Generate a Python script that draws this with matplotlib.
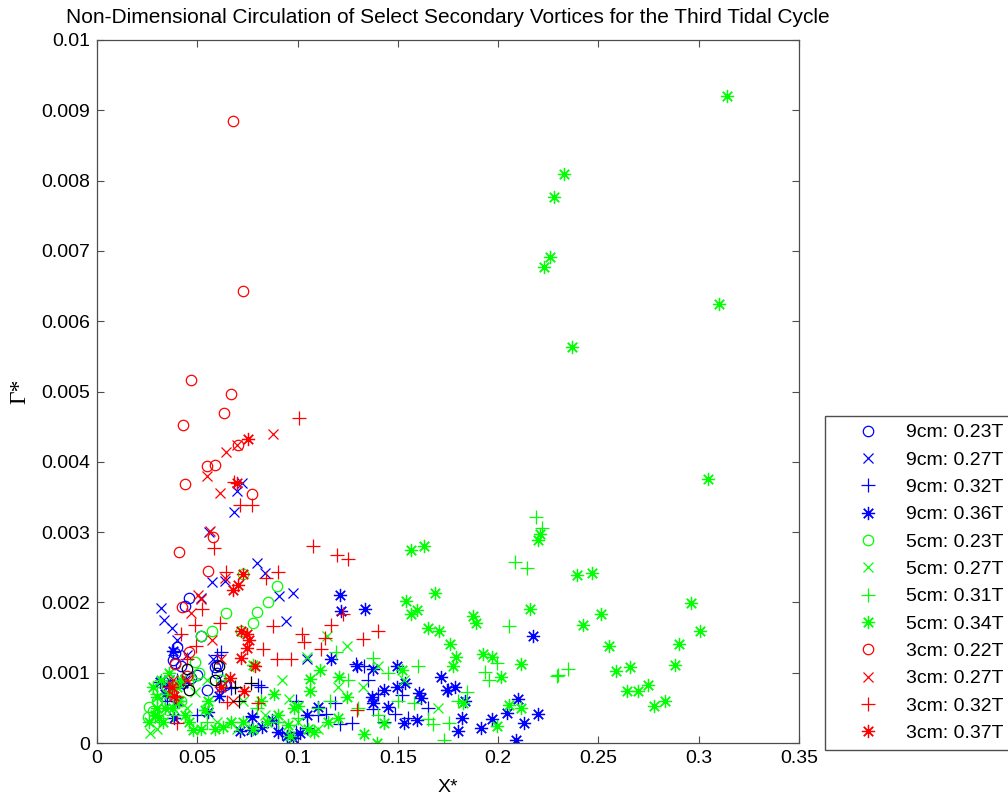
import numpy as np
import matplotlib
matplotlib.use("Agg")
import matplotlib.pyplot as plt

plt.rcParams["font.family"] = ["Liberation Sans", "DejaVu Sans"]

BLUE = "#0000ff"
GREEN = "#00ff00"
RED = "#ff0000"

# ── 9 cm ────────────────────────────────────────────────────────────────
b23_x = [0.046, 0.044, 0.052, 0.040, 0.038, 0.042, 0.059, 0.060, 0.062, 0.050,
         0.047, 0.043, 0.039, 0.055, 0.064, 0.0389, 0.0598]
b23_y = [0.00206, 0.00195, 0.00152, 0.00137, 0.00118, 0.00110, 0.00108, 0.00100,
         0.00081, 0.00097, 0.00092, 0.00085, 0.00128, 0.00075, 0.00082, 0.00114, 0.00111]

b27_x = [0.0723, 0.0698, 0.0683, 0.0558, 0.0798, 0.0319, 0.0334, 0.0374, 0.0573,
         0.0518, 0.0399, 0.0837, 0.0907, 0.0977, 0.0942, 0.1047, 0.064, 0.045,
         0.058, 0.036, 0.044]
b27_y = [0.00370, 0.00359, 0.00329, 0.00300, 0.00256, 0.00192, 0.00175, 0.00164,
         0.00229, 0.00206, 0.00147, 0.00242, 0.00209, 0.00213, 0.00174, 0.00120,
         0.00230, 0.00125, 0.00120, 0.00090, 0.00090]

b32_x = [0.0803, 0.1187, 0.1142, 0.1212, 0.1271, 0.1376, 0.1486, 0.152, 0.0992,
         0.0922, 0.1047, 0.0598, 0.0668, 0.0773, 0.175, 0.133, 0.129, 0.135, 0.155,
         0.165, 0.062, 0.082, 0.099, 0.110, 0.040, 0.035, 0.050, 0.089, 0.140, 0.143]
b32_y = [0.00082, 0.00057, 0.00041, 0.00027, 0.00029, 0.00048, 0.00041, 0.00068,
         0.00016, 0.00014, 0.00021, 0.00125, 0.00078, 0.00038, 0.00075, 0.00110,
         0.00112, 0.00090, 0.00035, 0.00050, 0.00130, 0.00080, 0.00060, 0.00040,
         0.00090, 0.00060, 0.00040, 0.00030, 0.00070, 0.00030]

b36_x = [0.1212, 0.1217, 0.1336, 0.1167, 0.1296, 0.1376, 0.1496, 0.1535, 0.1496,
         0.1431, 0.1371, 0.1451, 0.1376, 0.1102, 0.1047, 0.153, 0.1012, 0.0947,
         0.0902, 0.0872, 0.0822, 0.0773, 0.0977, 0.2173, 0.1715, 0.1785, 0.1745,
         0.1605, 0.1615, 0.1835, 0.2099, 0.2044, 0.2198, 0.1969, 0.2129, 0.182,
         0.1595, 0.180, 0.1914, 0.2089, 0.0379, 0.0314, 0.0354, 0.0384, 0.0713,
         0.0768, 0.0553, 0.0608, 0.043, 0.034, 0.040]
b36_y = [0.00210, 0.00188, 0.00190, 0.00120, 0.00110, 0.00105, 0.00110, 0.00085,
         0.00080, 0.00075, 0.00065, 0.00051, 0.00057, 0.00051, 0.00040, 0.00028,
         0.00014, 0.00010, 0.00016, 0.00033, 0.00023, 0.00037, 0.00007, 0.00152,
         0.00094, 0.00080, 0.00075, 0.00071, 0.00064, 0.00060, 0.00063, 0.00043,
         0.00041, 0.00034, 0.00028, 0.00036, 0.00033, 0.00017, 0.00021, 0.00004,
         0.00131, 0.00087, 0.00081, 0.00036, 0.00017, 0.00018, 0.00044, 0.00067,
         0.00085, 0.00070, 0.00060]

# ── 5 cm ────────────────────────────────────────────────────────────────
g23_x = [0.0728, 0.0897, 0.0852, 0.0798, 0.0778, 0.0643, 0.0573, 0.0518, 0.0489,
         0.0508, 0.0259, 0.0254, 0.035, 0.030, 0.042, 0.055, 0.072, 0.062, 0.028]
g23_y = [0.00241, 0.00223, 0.00200, 0.00186, 0.00170, 0.00185, 0.00160, 0.00152,
         0.00115, 0.00100, 0.00051, 0.00037, 0.00080, 0.00060, 0.00060, 0.00050,
         0.00160, 0.00090, 0.00045]

g27_x = [0.1246, 0.1047, 0.1147, 0.1326, 0.0957, 0.0489, 0.0264, 0.030, 0.045,
         0.060, 0.110, 0.120, 0.140, 0.170, 0.084, 0.073, 0.036, 0.055, 0.092,
         0.070, 0.153, 0.100]
g27_y = [0.00138, 0.00122, 0.00152, 0.00080, 0.00063, 0.00073, 0.00014, 0.00020,
         0.00050, 0.00030, 0.00020, 0.00080, 0.00110, 0.00050, 0.00040, 0.00060,
         0.00050, 0.00090, 0.00090, 0.00020, 0.00090, 0.00030]

g31_x = [0.2084, 0.2144, 0.2054, 0.1994, 0.1934, 0.1954, 0.2293, 0.1845, 0.165,
         0.1675, 0.1755, 0.173, 0.158, 0.2188, 0.2218, 0.2348, 0.2298, 0.1376,
         0.064, 0.090, 0.100, 0.110, 0.116, 0.125, 0.140, 0.150, 0.145, 0.160,
         0.180, 0.030, 0.038, 0.048, 0.055, 0.080, 0.119, 0.130]
g31_y = [0.00258, 0.00249, 0.00166, 0.00114, 0.00101, 0.00090, 0.00095, 0.00073,
         0.00034, 0.00027, 0.00028, 0.00004, 0.00057, 0.00321, 0.00306, 0.00105,
         0.00097, 0.00121, 0.00090, 0.00030, 0.00035, 0.00050, 0.00060, 0.00090,
         0.00040, 0.00060, 0.00100, 0.00110, 0.00060, 0.00070, 0.00040, 0.00090,
         0.00030, 0.00050, 0.00130, 0.00050]

g34_x = [0.314, 0.233, 0.228, 0.226, 0.223, 0.310, 0.237, 0.3046, 0.2198, 0.221,
         0.2393, 0.2468, 0.2961, 0.2512, 0.2423, 0.3006, 0.2552, 0.2901, 0.2881,
         0.2587, 0.2657, 0.2642, 0.2697, 0.2747, 0.2777, 0.2832,
         0.154, 0.1685, 0.1565, 0.1595, 0.165, 0.1705, 0.176, 0.179, 0.1775,
         0.1874, 0.1889, 0.2159, 0.1924, 0.1969, 0.2014, 0.2114, 0.152, 0.1825,
         0.2054, 0.2114, 0.1994, 0.1565, 0.163,
         0.0778, 0.1062, 0.1112, 0.1207, 0.1246, 0.1431, 0.1331, 0.1396, 0.1062,
         0.1002,
         0.048, 0.052, 0.054, 0.0553, 0.063, 0.059, 0.067, 0.028, 0.030, 0.032,
         0.034, 0.036, 0.026, 0.029, 0.033, 0.038, 0.041, 0.044, 0.046, 0.040,
         0.042, 0.031, 0.073, 0.078, 0.085, 0.090, 0.095, 0.098, 0.105, 0.115,
         0.088, 0.082, 0.096, 0.108, 0.120, 0.036, 0.030]
g34_y = [0.00920, 0.00810, 0.00777, 0.00692, 0.00677, 0.00625, 0.00564, 0.00375,
         0.00289, 0.00298,
         0.00239, 0.00242, 0.00199, 0.00183, 0.00168, 0.00159, 0.00138, 0.00141,
         0.00111, 0.00102, 0.00108, 0.00074, 0.00074, 0.00083, 0.00053, 0.00060,
         0.00202, 0.00213, 0.00184, 0.00189, 0.00164, 0.00160, 0.00141, 0.00123,
         0.00110, 0.00181, 0.00171, 0.00191, 0.00127, 0.00123, 0.00094, 0.00112,
         0.00104, 0.00057, 0.00054, 0.00050, 0.00024, 0.00275, 0.00280,
         0.00111, 0.00091, 0.00104, 0.00094, 0.00065, 0.00028, 0.00013, 0.00000,
         0.00074, 0.00053,
         0.00018, 0.00020, 0.00047, 0.00060, 0.00023, 0.00020, 0.00030, 0.00080,
         0.00065, 0.00090, 0.00050, 0.00070, 0.00030, 0.00040, 0.00030, 0.00050,
         0.00060, 0.00040, 0.00030, 0.00080, 0.00090, 0.00035, 0.00030, 0.00020,
         0.00030, 0.00040, 0.00025, 0.00050, 0.00020, 0.00030, 0.00070, 0.00060,
         0.00010, 0.00015, 0.00035, 0.00100, 0.00050]

# ── 3 cm ────────────────────────────────────────────────────────────────
r22_x = [0.068, 0.073, 0.047, 0.067, 0.0633, 0.0429, 0.0703, 0.0439, 0.0548,
         0.0588, 0.0773, 0.0578, 0.0409, 0.0553, 0.0424, 0.039, 0.046, 0.045]
r22_y = [0.00885, 0.00643, 0.00517, 0.00497, 0.00469, 0.00452, 0.00424, 0.00368,
         0.00394, 0.00395, 0.00354, 0.00293, 0.00272, 0.00245, 0.00194, 0.00112,
         0.00130, 0.00095]

r27_x = [0.0877, 0.0643, 0.0698, 0.0548, 0.0613, 0.0563, 0.0503, 0.0573, 0.064,
         0.052, 0.045, 0.062, 0.047, 0.038, 0.068]
r27_y = [0.00440, 0.00414, 0.00424, 0.00380, 0.00356, 0.00302, 0.00210, 0.00147,
         0.00235, 0.00205, 0.00090, 0.00120, 0.00185, 0.00090, 0.00060]

r32_x = [0.1007, 0.0683, 0.0713, 0.0772, 0.0583, 0.1077, 0.1196, 0.1251, 0.0643,
         0.0523, 0.0489, 0.0419, 0.0494, 0.0613, 0.0394, 0.040, 0.0648, 0.0902,
         0.0842, 0.0877, 0.1022, 0.1032, 0.1167, 0.1226, 0.1137, 0.1326, 0.1401,
         0.0827, 0.0897, 0.0967, 0.1117, 0.0803, 0.1296, 0.045, 0.036]
r32_y = [0.00462, 0.00371, 0.00339, 0.00339, 0.00277, 0.00280, 0.00267, 0.00262,
         0.00243, 0.00190, 0.00168, 0.00155, 0.00138, 0.00171, 0.00065, 0.00028,
         0.00058, 0.00243, 0.00234, 0.00166, 0.00155, 0.00144, 0.00168, 0.00184,
         0.00150, 0.00148, 0.00159, 0.00134, 0.00120, 0.00120, 0.00134, 0.00057,
         0.00047, 0.00120, 0.00080]

r37_x = [0.0753, 0.070, 0.0703, 0.0718, 0.0758, 0.0748, 0.0718, 0.0663, 0.0733,
         0.0384, 0.0374, 0.075, 0.068, 0.073, 0.062, 0.079]
r37_y = [0.00432, 0.00370, 0.00225, 0.00159, 0.00147, 0.00135, 0.00121, 0.00092,
         0.00074, 0.00067, 0.00080, 0.00155, 0.00218, 0.00240, 0.00080, 0.00110]

# extra points drawn in black (not in the legend)
k_o_x = [0.045, 0.046, 0.061, 0.059]
k_o_y = [0.00105, 0.00075, 0.00110, 0.00090]
k_p_x = [0.069, 0.077, 0.071]
k_p_y = [0.00080, 0.00085, 0.00060]

labels = ["9cm: 0.23T", "9cm: 0.27T", "9cm: 0.32T", "9cm: 0.36T",
          "5cm: 0.23T", "5cm: 0.27T", "5cm: 0.31T", "5cm: 0.34T",
          "3cm: 0.22T", "3cm: 0.27T", "3cm: 0.32T", "3cm: 0.37T"]

xticks = [0, 0.05, 0.1, 0.15, 0.2, 0.25, 0.3, 0.35]
xticklabels = ["0", "0.05", "0.1", "0.15", "0.2", "0.25", "0.3", "0.35"]
yticks = [0, 0.001, 0.002, 0.003, 0.004, 0.005, 0.006, 0.007, 0.008, 0.009, 0.01]
yticklabels = ["0", "0.001", "0.002", "0.003", "0.004", "0.005", "0.006",
               "0.007", "0.008", "0.009", "0.01"]

STAR = (8, 2, 0)  # 8-spoke asterisk like MATLAB '*'
MARK = {"o": dict(marker="o", ms=7.5, mfc="none"),
        "x": dict(marker="x", ms=7),
        "+": dict(marker="+", ms=9.5),
        "*": dict(marker=STAR, ms=9.5)}

series = [
    (b23_x, b23_y, BLUE, "o"), (b27_x, b27_y, BLUE, "x"),
    (b32_x, b32_y, BLUE, "+"), (b36_x, b36_y, BLUE, "*"),
    (g23_x, g23_y, GREEN, "o"), (g27_x, g27_y, GREEN, "x"),
    (g31_x, g31_y, GREEN, "+"), (g34_x, g34_y, GREEN, "*"),
    (r22_x, r22_y, RED, "o"), (r27_x, r27_y, RED, "x"),
    (r32_x, r32_y, RED, "+"), (r37_x, r37_y, RED, "*"),
]

fig = plt.figure(figsize=(10.08, 7.98), dpi=100)
ax = fig.add_axes([97 / 1008, 55 / 798, 702 / 1008, 703 / 798])

handles = []
for (xs, ys, c, m), lab in zip(series, labels):
    h, = ax.plot(xs, ys, linestyle="none", color=c, mec=c, mew=0.9,
                 label=lab, **MARK[m])
    handles.append(h)
ax.plot(k_o_x, k_o_y, linestyle="none", color="k", mew=0.9, **MARK["o"])
ax.plot(k_p_x, k_p_y, linestyle="none", color="k", mew=0.9, **MARK["+"])

ax.set_xlim(0, 0.35)
ax.set_ylim(0, 0.01)
ax.set_xticks(xticks)
ax.set_xticklabels(xticklabels)
ax.set_yticks(yticks)
ax.set_yticklabels(yticklabels)
ax.tick_params(direction="in", length=5, width=0.8, top=True, right=True,
               labelsize=14, pad=5, color="0.3")
for s in ax.spines.values():
    s.set_color("0.3"); s.set_linewidth(0.9)

ax.set_title("Non-Dimensional Circulation of Select Secondary Vortices for the Third Tidal Cycle",
             fontsize=15, pad=12)
ax.set_xlabel("X*", fontsize=14, labelpad=9)
ax.set_ylabel("Γ*", fontsize=17, family=["Liberation Serif", "DejaVu Serif"], labelpad=8)

fig.legend(handles=handles, loc="upper left",
           bbox_to_anchor=(825 / 1008, (798 - 416) / 798),
           borderaxespad=0, fontsize=14, numpoints=1, handlelength=3.6,
           handletextpad=0.15, borderpad=0.4, labelspacing=0.5,
           fancybox=False, framealpha=1, edgecolor="0.3")

fig.savefig("out.png", dpi=100)
